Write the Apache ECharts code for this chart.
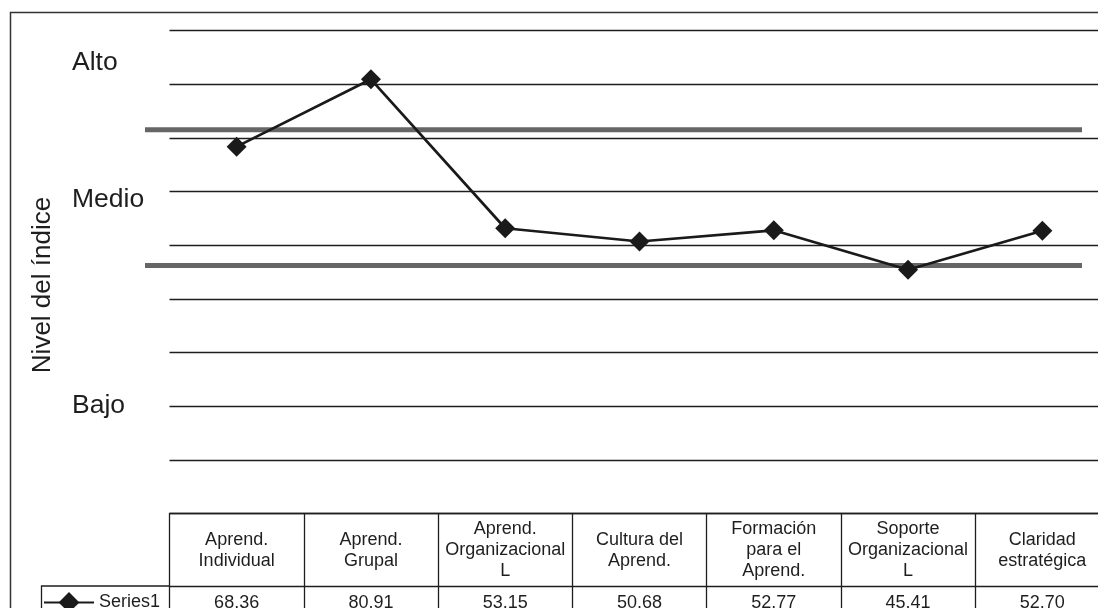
<!DOCTYPE html>
<html>
<head>
<meta charset="utf-8">
<style>
  html, body { margin: 0; padding: 0; background: #fff; }
  #chart { width: 1098px; height: 608px; }
</style>
<script src="https://cdn.jsdelivr.net/npm/echarts@6/dist/echarts.min.js"></script>
</head>
<body>
<div id="chart"></div>
<script>
// ---- data ----
const categories = [
  'Aprend.\nIndividual',
  'Aprend.\nGrupal',
  'Aprend.\nOrganizacional\nL',
  'Cultura del\nAprend.',
  'Formación\npara el\nAprend.',
  'Soporte\nOrganizacional\nL',
  'Claridad\nestratégica'
];
const seriesName = 'Series1';
const values = [68.36, 80.91, 53.15, 50.68, 52.77, 45.41, 52.70];
const thresholds = [71.5, 46.2];
const levelNames = ['Alto', 'Medio', 'Bajo'];
const levelValues = [84, 58.5, 20];
const yTitle = 'Nivel del índice';

// ---- chart ----
const FONT = '"Liberation Sans", Arial, Helvetica, sans-serif';
const INK = '#1e1e1e';
const chart = echarts.init(document.getElementById('chart'), null, { renderer: 'canvas' });

const option = {
  animation: false,
  backgroundColor: '#fff',
  textStyle: { fontFamily: FONT, color: INK },
  grid: [
    { left: 169.5, top: 30.5, width: 940, height: 483, outerBoundsMode: 'none', containLabel: false },
    { left: 145, top: 30.5, width: 937, height: 483, outerBoundsMode: 'none', containLabel: false }
  ],
  legend: {
    data: [seriesName],
    left: 43,
    top: 592,
    padding: 0,
    itemWidth: 50,
    itemHeight: 26,
    itemGap: 5,
    textStyle: { fontSize: 18, color: INK, fontFamily: FONT }
  },
  xAxis: [
    {
      type: 'category',
      gridIndex: 0,
      data: categories,
      boundaryGap: true,
      axisLine: { show: true, lineStyle: { color: INK, width: 1.3 } },
      axisTick: { show: true, interval: 0, alignWithLabel: false, length: 110, lineStyle: { color: INK, width: 1.3 } },
      axisLabel: {
        interval: 0, fontSize: 18, lineHeight: 21, color: INK, fontFamily: FONT,
        verticalAlign: 'middle', margin: 37
      },
      splitLine: { show: false }
    },
    {
      type: 'category',
      gridIndex: 0,
      data: categories,
      position: 'bottom',
      offset: 72.5,
      boundaryGap: true,
      axisLine: { show: true, lineStyle: { color: INK, width: 1.3 } },
      axisTick: { show: false },
      axisLabel: {
        interval: 0, fontSize: 18, color: INK, fontFamily: FONT,
        verticalAlign: 'middle', margin: 17.5,
        formatter: (v, i) => values[i].toFixed(2)
      },
      splitLine: { show: false }
    },
    { type: 'value', gridIndex: 1, min: 0, max: 1, show: false }
  ],
  yAxis: [
    {
      type: 'value',
      gridIndex: 0,
      min: 0,
      max: 90,
      interval: 10,
      axisLine: { show: false },
      axisTick: { show: false },
      splitLine: { show: true, lineStyle: { color: INK, width: 1.3 } },
      axisLabel: {
        customValues: levelValues,
        formatter: (v) => {
          const k = levelValues.indexOf(v);
          return k >= 0 ? levelNames[k] : '';
        },
        align: 'left',
        margin: 97.5,
        fontSize: 26.5,
        color: INK,
        fontFamily: FONT
      }
    },
    { type: 'value', gridIndex: 1, min: 0, max: 90, show: false }
  ],
  graphic: [
    {
      type: 'rect', silent: true, z: -1,
      shape: { x: 10.5, y: 12.5, width: 1300, height: 800 },
      style: { fill: 'none', stroke: '#333', lineWidth: 1.5 }
    },
    {
      type: 'polyline', silent: true,
      shape: { points: [[41.5, 700], [41.5, 586], [170, 586]] },
      style: { fill: 'none', stroke: INK, lineWidth: 1.3 }
    },
    {
      type: 'text', silent: true,
      x: 43, y: 285, rotation: Math.PI / 2,
      style: {
        text: yTitle, fontSize: 26, fontFamily: FONT, fill: INK,
        align: 'center', verticalAlign: 'middle'
      }
    }
  ],
  series: [
    ...thresholds.map((t, k) => ({
      name: 'thr' + k,
      type: 'line',
      xAxisIndex: 2,
      yAxisIndex: 1,
      data: [[0, t], [1, t]],
      symbol: 'none',
      silent: true,
      z: 2,
      lineStyle: { color: '#666', width: 5 }
    })),
    {
      name: seriesName,
      type: 'line',
      xAxisIndex: 0,
      yAxisIndex: 0,
      data: values,
      symbol: 'diamond',
      symbolSize: 20,
      z: 5,
      lineStyle: { color: '#1a1a1a', width: 2.7 },
      itemStyle: { color: '#1a1a1a' }
    }
  ]
};
chart.setOption(option);
</script>
</body>
</html>
